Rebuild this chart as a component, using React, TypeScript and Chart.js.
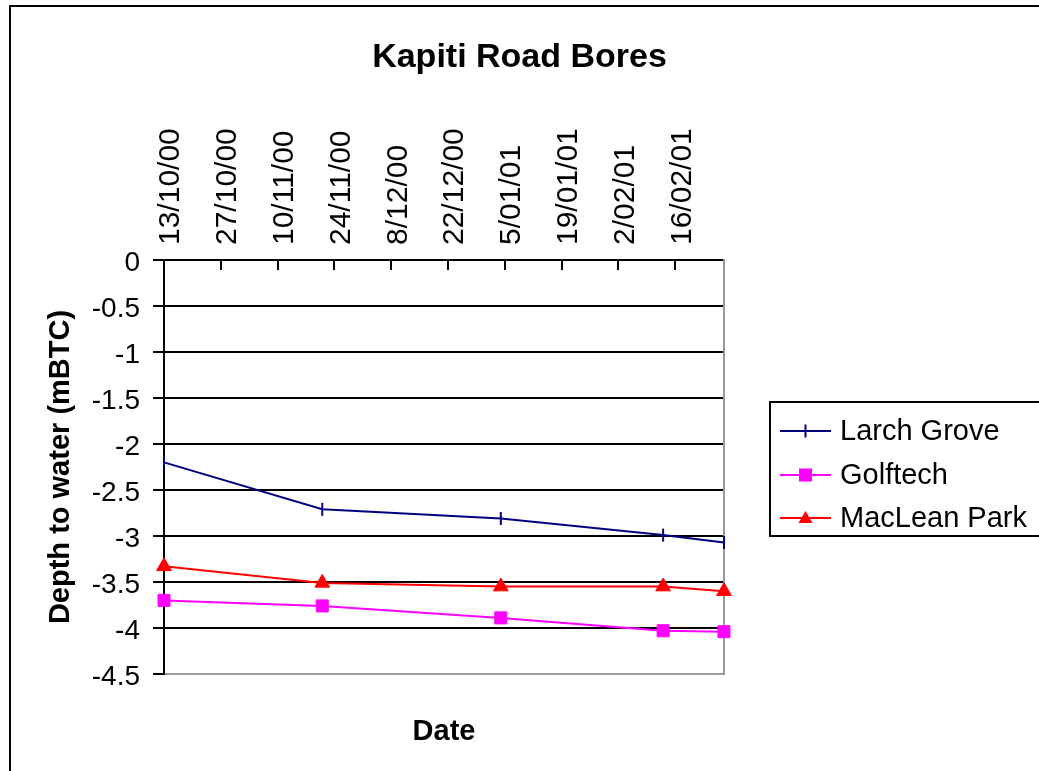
import { useEffect, useRef } from 'react';
import { Chart, registerables } from 'chart.js';

Chart.register(...registerables);

// ---- data ----
const chartTitle = 'Kapiti Road Bores';
const xAxisTitle = 'Date';
const yAxisTitle = 'Depth to water (mBTC)';
const seriesNames = ['Larch Grove', 'Golftech', 'MacLean Park'];
const sampleDates = ['2000-10-13', '2000-11-21', '2001-01-04', '2001-02-13', '2001-02-28'];
const larchGrove = [-2.2, -2.71, -2.81, -2.99, -3.07];
const golftech = [-3.7, -3.76, -3.89, -4.03, -4.04];
const macLeanPark = [-3.33, -3.51, -3.55, -3.55, -3.6];
const axisStart = '2000-10-13';
const axisEnd = '2001-02-28';
const tickDates = [
  '2000-10-13', '2000-10-27', '2000-11-10', '2000-11-24', '2000-12-08',
  '2000-12-22', '2001-01-05', '2001-01-19', '2001-02-02', '2001-02-16',
];
const tickLabels = [
  '13/10/00', '27/10/00', '10/11/00', '24/11/00', '8/12/00',
  '22/12/00', '5/01/01', '19/01/01', '2/02/01', '16/02/01',
];
const yMin = -4.5;
const yMax = 0;
const yStep = 0.5;

// ---- styles ----
const seriesColors = ['#000080', '#FF00FF', '#FF0000'];
const seriesPointStyles = ['line', 'rect', 'triangle'];
const FONT = '"Liberation Sans", Arial, Helvetica, sans-serif';

const DAY = 86400000;
const toDay = (s: string) => Math.round(Date.parse(s) / DAY);
const tickDays = tickDates.map(toDay);

const framePlugin = {
  id: 'frame',
  beforeDraw(chart: any) {
    const ctx = chart.ctx;
    ctx.save();
    ctx.fillStyle = '#fff';
    ctx.fillRect(0, 0, chart.width, chart.height);
    ctx.strokeStyle = '#000';
    ctx.lineWidth = 2;
    ctx.strokeRect(10, 6, chart.width + 40, chart.height + 40);
    ctx.restore();
  },
};

function drawMarker(ctx: CanvasRenderingContext2D, style: string, x: number, y: number, color: string) {
  ctx.save();
  ctx.fillStyle = color;
  ctx.strokeStyle = color;
  if (style === 'line') {
    ctx.lineWidth = 2;
    ctx.beginPath();
    ctx.moveTo(x, y - 6.5);
    ctx.lineTo(x, y + 6.5);
    ctx.stroke();
  } else if (style === 'rect') {
    ctx.fillRect(x - 6.5, y - 6.5, 13, 13);
  } else if (style === 'triangle') {
    ctx.beginPath();
    ctx.moveTo(x, y - 7);
    ctx.lineTo(x + 7, y + 5);
    ctx.lineTo(x - 7, y + 5);
    ctx.closePath();
    ctx.fill();
  }
  ctx.restore();
}

const legendPlugin = {
  id: 'boxLegend',
  afterDraw(chart: any) {
    const ctx = chart.ctx;
    ctx.save();
    ctx.strokeStyle = '#000';
    ctx.lineWidth = 2;
    ctx.strokeRect(770, 402, 320, 134);
    ctx.font = `29px ${FONT}`;
    ctx.textBaseline = 'middle';
    ctx.textAlign = 'left';
    const rowY = [431, 475, 518];
    chart.data.datasets.forEach((ds: any, i: number) => {
      const y = rowY[i];
      ctx.strokeStyle = ds.borderColor;
      ctx.lineWidth = 2;
      ctx.beginPath();
      ctx.moveTo(780, y);
      ctx.lineTo(831, y);
      ctx.stroke();
      drawMarker(ctx, ds.pointStyle, 805.5, y, ds.borderColor);
      ctx.fillStyle = '#000';
      ctx.fillText(ds.label, 840, y + 1);
    });
    ctx.restore();
  },
};

export default function App() {
  const canvasRef = useRef<HTMLCanvasElement | null>(null);

  useEffect(() => {
    const canvas = canvasRef.current;
    if (!canvas) return;
    const seriesValues = [larchGrove, golftech, macLeanPark];
    const days = sampleDates.map(toDay);
    const datasets = seriesNames.map((name, i) => ({
      label: name,
      data: days.map((d, j) => ({ x: d, y: seriesValues[i][j] })),
      borderColor: seriesColors[i],
      backgroundColor: seriesColors[i],
      pointBackgroundColor: seriesColors[i],
      pointBorderColor: seriesColors[i],
      pointStyle: seriesPointStyles[i],
      pointRadius: i === 0 ? 6.5 : 8.5,
      pointBorderWidth: i === 0 ? 2 : 1,
      pointRotation: i === 0 ? 90 : 0,
      borderWidth: 2,
      tension: 0,
      fill: false,
      clip: false as any,
      xAxisID: 'x',
      yAxisID: 'y',
    }));

    const chart = new Chart(canvas, {
      type: 'line',
      data: { datasets },
      plugins: [framePlugin, legendPlugin],
      options: {
        animation: false,
        responsive: false,
        maintainAspectRatio: false,
        events: [],
        layout: { padding: 0 },
        plugins: {
          legend: { display: false },
          tooltip: { enabled: false },
          title: {
            display: true,
            text: chartTitle,
            color: '#000',
            font: { family: FONT, size: 34, weight: 'bold' },
            padding: { top: 37, bottom: 0 },
          },
        },
        scales: {
          x: {
            type: 'linear',
            position: 'top',
            min: toDay(axisStart),
            max: toDay(axisEnd),
            afterBuildTicks: (scale: any) => {
              scale.ticks = tickDays.map((v) => ({ value: v }));
            },
            afterFit: (scale: any) => {
              scale.height = 182.2;
            },
            ticks: {
              autoSkip: false,
              minRotation: 90,
              maxRotation: 90,
              padding: 25,
              labelOffset: 43,
              color: '#000',
              font: { family: FONT, size: 30 },
              callback: (value: any) => {
                const i = tickDays.indexOf(Number(value));
                return i >= 0 ? tickLabels[i] : '';
              },
            },
            grid: {
              drawOnChartArea: false,
              drawTicks: true,
              tickLength: -10,
              color: '#000',
              lineWidth: 2,
            },
            border: { display: true, color: '#000', width: 2 },
          },
          x2: {
            type: 'linear',
            position: 'bottom',
            min: 0,
            max: 1,
            afterFit: (scale: any) => {
              scale.height = 97;
            },
            ticks: { display: false },
            grid: { drawOnChartArea: false, drawTicks: false },
            border: { display: true, color: '#999', width: 2 },
            title: {
              display: true,
              text: xAxisTitle,
              color: '#000',
              font: { family: FONT, size: 29, weight: 'bold' },
              padding: { top: 0, bottom: 22 },
            },
          },
          y: {
            type: 'linear',
            position: 'left',
            min: yMin,
            max: yMax,
            afterFit: (scale: any) => {
              scale.width = 164;
            },
            ticks: {
              stepSize: yStep,
              padding: 13,
              labelOffset: 3,
              color: '#000',
              font: { family: FONT, size: 28 },
              callback: (value: any) => String(Math.round(Number(value) * 10) / 10),
            },
            grid: {
              color: (ctx: any) => (ctx.tick && Math.abs(ctx.tick.value - yMin) < 1e-9 ? 'rgba(0,0,0,0)' : '#000'),
              lineWidth: 2,
              tickColor: '#000',
              tickLength: 11,
              tickWidth: 2,
            },
            border: { display: true, color: '#000', width: 2 },
            title: {
              display: true,
              text: yAxisTitle,
              color: '#000',
              font: { family: FONT, size: 29, weight: 'bold' },
              padding: { top: 44, bottom: 0 },
            },
          },
          yR: {
            type: 'linear',
            position: 'right',
            min: 0,
            max: 1,
            afterFit: (scale: any) => {
              scale.width = 315;
            },
            ticks: { display: false },
            grid: { drawOnChartArea: false, drawTicks: false },
            border: { display: true, color: '#999', width: 2 },
          },
        },
      } as any,
    });
    return () => chart.destroy();
  }, []);

  return (
    <div style={{ position: 'absolute', left: 0, top: 0, width: 1039, height: 771 }}>
      <canvas ref={canvasRef} width={1039} height={771} style={{ display: 'block' }} />
    </div>
  );
}
